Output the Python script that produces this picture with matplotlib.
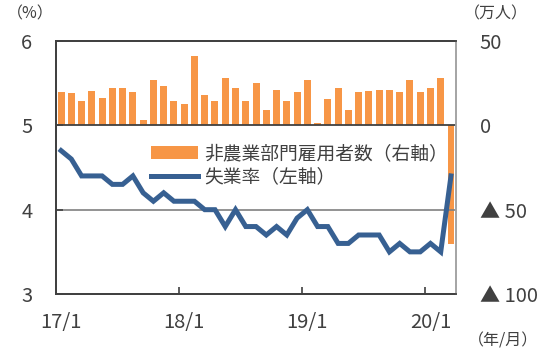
import numpy as np
import matplotlib
matplotlib.use('Agg')
import matplotlib.pyplot as plt

plt.rcParams['font.family'] = ['Noto Sans CJK JP', 'DejaVu Sans']

# 2017/1 - 2020/3, monthly
months = ['17/1', '17/2', '17/3', '17/4', '17/5', '17/6', '17/7', '17/8', '17/9', '17/10', '17/11', '17/12',
          '18/1', '18/2', '18/3', '18/4', '18/5', '18/6', '18/7', '18/8', '18/9', '18/10', '18/11', '18/12',
          '19/1', '19/2', '19/3', '19/4', '19/5', '19/6', '19/7', '19/8', '19/9', '19/10', '19/11', '19/12',
          '20/1', '20/2', '20/3']

# non-farm payrolls change (10k persons, right axis)
payrolls = [19.6, 19.4, 14.3, 20.2, 15.9, 22.3, 22.3, 19.6, 3.1, 27.0, 23.1, 14.3,
            12.9, 41.2, 18.2, 14.3, 28.0, 22.3, 14.3, 25.0, 8.8, 21.2, 14.3, 19.6,
            27.0, 1.6, 15.3, 22.3, 8.8, 19.6, 20.2, 21.2, 21.2, 19.6, 27.0, 19.6,
            22.3, 28.0, -70.1]

# unemployment rate (%, left axis)
unemp = [4.7, 4.6, 4.4, 4.4, 4.4, 4.3, 4.3, 4.4, 4.2, 4.1, 4.2, 4.1,
         4.1, 4.1, 4.0, 4.0, 3.8, 4.0, 3.8, 3.8, 3.7, 3.8, 3.7, 3.9,
         4.0, 3.8, 3.8, 3.6, 3.6, 3.7, 3.7, 3.7, 3.5, 3.6, 3.5, 3.5,
         3.6, 3.5, 4.4]

left_ticks = [3, 4, 5, 6]
right_ticks = [-100, -50, 0, 50]
right_labels = ['▲ 100', '▲ 50', '0', '50']
year_pos = [0, 12, 24, 36]
year_labels = ['17/1', '18/1', '19/1', '20/1']

orange = '#F79646'
blue = '#376092'
dark = '#404040'

x = np.arange(len(months))

fig = plt.figure(figsize=(5.43, 3.53), dpi=100)
ax = fig.add_axes([0.103, 0.167, 0.737, 0.717])
ax2 = ax.twinx()

bars = ax2.bar(x, payrolls, width=0.68, color=orange, zorder=2)
ax2.axhline(0, color=dark, lw=1.3, zorder=3)
ax2.set_ylim(-100, 50)
ax2.set_yticks(right_ticks)
ax2.set_yticklabels(right_labels)
ax2.tick_params(axis='y', length=0, pad=17, labelsize=14.5, labelcolor=dark)
for lab in ax2.get_yticklabels():
    lab.set_horizontalalignment('left')

ax.set_zorder(ax2.get_zorder() + 1)
ax.patch.set_visible(False)
line, = ax.plot(x, unemp, color=blue, lw=3.6, zorder=4, solid_joinstyle='miter')
ax.axhline(4, color='#808080', lw=1.2, zorder=1)
ax.set_ylim(3, 6)
ax.set_xlim(-0.5, len(months) - 0.5)
ax.set_yticks(left_ticks)
ax.tick_params(axis='y', direction='in', length=5, width=1.2, color=dark,
               pad=17, labelsize=14.5, labelcolor=dark)
ax.set_xticks(year_pos)
ax.set_xticklabels(year_labels)
ax.set_xticks([p - 0.5 for p in year_pos[1:]], minor=True)
ax.tick_params(axis='x', which='major', length=0, pad=13, labelsize=14.5, labelcolor=dark)
ax.tick_params(axis='x', which='minor', direction='in', length=5, width=1.2, color=dark)

for a in (ax, ax2):
    for s in ('left', 'bottom', 'top'):
        a.spines[s].set_color(dark)
        a.spines[s].set_linewidth(1.3)
    a.spines['right'].set_color('#A6A6A6')
    a.spines['right'].set_linewidth(1.3)

ax.legend([bars, line], ['非農業部門雇用者数（右軸）', '失業率（左軸）'],
          loc='upper left', bbox_to_anchor=(0.22, 0.625), frameon=False,
          fontsize=13.5, handlelength=2.5, handletextpad=0.3, labelspacing=0.1,
          labelcolor=dark, borderaxespad=0)

fig.text(0.012, 0.96, '（%）', fontsize=11.5, color=dark, va='center')
fig.text(0.855, 0.96, '（万人）', fontsize=11.5, color=dark, va='center')
fig.text(0.862, 0.035, '（年/月）', fontsize=11.5, color=dark, va='center')

fig.savefig('out.png', dpi=100)
